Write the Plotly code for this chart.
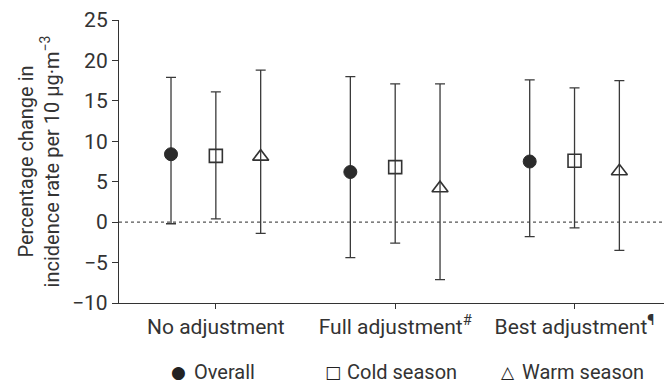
import plotly.graph_objects as go

categories = ["No adjustment", "Full adjustment<sup>#</sup>", "Best adjustment<sup>¶</sup>"]
series_names = ["Overall", "Cold season", "Warm season"]
estimates = {
    "Overall": [8.4, 6.2, 7.5],
    "Cold season": [8.2, 6.8, 7.6],
    "Warm season": [8.1, 4.2, 6.3],
}
upper = {
    "Overall": [17.9, 18.0, 17.6],
    "Cold season": [16.1, 17.1, 16.6],
    "Warm season": [18.8, 17.1, 17.5],
}
lower = {
    "Overall": [-0.2, -4.4, -1.8],
    "Cold season": [0.4, -2.6, -0.7],
    "Warm season": [-1.4, -7.1, -3.5],
}
y_ticks = [25, 20, 15, 10, 5, 0, -5, -10]
legend_symbols = {"Overall": "●", "Cold season": "□", "Warm season": "△"}

ink = "#2b2b2b"
styles = {
    "Overall": dict(symbol="circle", size=13, color=ink, line=dict(color=ink, width=1)),
    "Cold season": dict(symbol="square-open", size=13, color="#333333", line=dict(width=1.6)),
    "Warm season": dict(symbol="triangle-up-open", size=14, color="#333333", line=dict(width=1.6)),
}

fig = go.Figure()
for name in series_names:
    est = estimates[name]
    fig.add_trace(go.Scatter(
        x=categories, y=est, name=name, mode="markers",
        marker=styles[name],
        error_y=dict(type="data", symmetric=False,
                     array=[u - e for u, e in zip(upper[name], est)],
                     arrayminus=[e - l for e, l in zip(est, lower[name])],
                     color="#3a3a3a", thickness=1.3, width=5),
        showlegend=False,
    ))

fig.add_hline(y=0, line=dict(color="#555555", width=1.2, dash="dot"), layer="below")

# the page body adds an 8px margin, so the figure is drawn 8px smaller
font = "Roboto, 'Noto Sans', sans-serif"
fig.update_layout(
    width=664, height=376,
    margin=dict(l=111, r=6, t=12, b=81),
    paper_bgcolor="white", plot_bgcolor="white",
    scattermode="group", scattergap=0.25,
    font=dict(family=font, size=20, color="#333333"),
    xaxis=dict(type="category", range=[-0.54, 2.51], showline=True, linecolor="#333333",
               linewidth=1.2, ticks="outside", ticklen=5, tickcolor="#333333",
               showgrid=False, zeroline=False, tickfont=dict(size=21), automargin=False),
    yaxis=dict(range=[-10, 25], tickvals=y_ticks, showline=True, linecolor="#333333",
               linewidth=1.2, ticks="outside", ticklen=6, tickcolor="#333333",
               showgrid=False, zeroline=False, tickfont=dict(size=21), automargin=False,
               title=dict(text="Percentage change in<br>incidence rate per 10 μg·m<sup>−3</sup>",
                          font=dict(size=20), standoff=7)),
)

# legend drawn as glyph + label; positions as fractions of the plot width
legend_sym_x = [0.109, 0.391, 0.712]
legend_lab_x = [0.133, 0.413, 0.733]
legend_y = -69 / 283
for i, name in enumerate(series_names):
    fig.add_annotation(x=legend_sym_x[i], y=legend_y, xref="paper", yref="paper",
                       text=legend_symbols[name], showarrow=False, xanchor="center",
                       font=dict(family="DejaVu Sans", size=17, color="#222222"),
                       yanchor="middle")
    fig.add_annotation(x=legend_lab_x[i], y=legend_y, xref="paper", yref="paper",
                       text=name, showarrow=False, xanchor="left",
                       font=dict(size=20, color="#333333"), yanchor="middle")

fig.write_html("out.html")
